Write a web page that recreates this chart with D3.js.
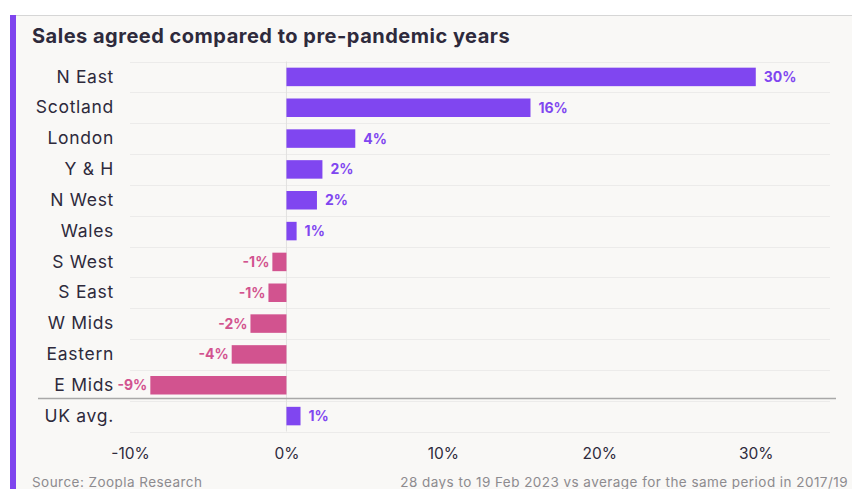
<!DOCTYPE html>
<html>
<head>
<meta charset="utf-8">
<script src="https://cdn.jsdelivr.net/npm/d3@7"></script>
<style>
  body { margin: 0; background: #ffffff; }
  svg text { font-family: Inter, "Noto Sans", sans-serif; }
</style>
</head>
<body>
<div class="chart"></div>
<script>
// Regions and their change in sales agreed (%)
const regions = ["N East", "Scotland", "London", "Y & H", "N West", "Wales",
  "S West", "S East", "W Mids", "Eastern", "E Mids", "UK avg."];
const values = [30.0, 15.6, 4.4, 2.3, 1.95, 0.65, -0.9, -1.15, -2.3, -3.5, -8.7, 0.9];
const valueLabels = ["30%", "16%", "4%", "2%", "2%", "1%", "-1%", "-1%", "-2%", "-4%", "-9%", "1%"];
const tickValues = [-10, 0, 10, 20, 30];

const width = 852, height = 489;
const purple = "#8046f0", pink = "#d2538f", ink = "#2e2a3c";
const font = "Inter, 'Noto Sans', sans-serif";

const svg = d3.select(".chart").append("svg")
  .attr("width", width)
  .attr("height", height);

// panel background + accents
svg.append("rect").attr("x", 10).attr("y", 15).attr("width", width - 10).attr("height", height - 15)
  .attr("fill", "#f9f8f6");
svg.append("line").attr("x1", 10).attr("x2", width).attr("y1", 15.5).attr("y2", 15.5)
  .attr("stroke", "#d6d6d6").attr("stroke-width", 1);
svg.append("rect").attr("x", 10).attr("y", 15).attr("width", 6).attr("height", height - 15)
  .attr("fill", "#7f45ee");

svg.append("text")
  .attr("x", 32).attr("y", 43)
  .attr("font-size", 20).attr("font-weight", 700)
  .attr("letter-spacing", 0.5)
  .attr("fill", ink)
  .text("Sales agreed compared to pre-pandemic years");

const data = regions.map((r, i) => ({ region: r, value: values[i], label: valueLabels[i] }));

const x = d3.scaleLinear().domain([-10, 35]).range([130, 834]);
const y = d3.scaleBand().domain(regions).range([61.5, 431.5]).paddingInner(0.4).paddingOuter(0.2);

// faint row lines
const rowLines = d3.range(regions.length + 1).map(i => 61.5 + i * y.step());
svg.selectAll(".row-line").data(rowLines).join("line")
  .attr("class", "row-line")
  .attr("x1", 130).attr("x2", 830)
  .attr("y1", d => Math.round(d) + 0.5).attr("y2", d => Math.round(d) + 0.5)
  .attr("stroke", "#ecebea").attr("stroke-width", 1);

// zero line
svg.append("line")
  .attr("x1", x(0)).attr("x2", x(0))
  .attr("y1", 61.5).attr("y2", 431.5)
  .attr("stroke", "#e2e1e0").attr("stroke-width", 1);

// separator above UK avg
const sepY = Math.round(y("UK avg.") - y.step() * 0.2 - 3) + 0.5;
svg.append("line")
  .attr("x1", 38).attr("x2", 836)
  .attr("y1", sepY).attr("y2", sepY)
  .attr("stroke", "#a9a8a8").attr("stroke-width", 1.5);

// bars
svg.selectAll(".bar").data(data).join("rect")
  .attr("class", "bar")
  .attr("x", d => x(Math.min(0, d.value)))
  .attr("y", d => y(d.region))
  .attr("width", d => Math.abs(x(d.value) - x(0)))
  .attr("height", y.bandwidth())
  .attr("fill", d => d.value < 0 ? pink : purple);

// value labels
svg.selectAll(".val").data(data).join("text")
  .attr("class", "val")
  .attr("x", d => d.value < 0 ? x(d.value) - 3 : x(d.value) + 8)
  .attr("y", d => y(d.region) + y.bandwidth() / 2)
  .attr("dy", "0.36em")
  .attr("text-anchor", d => d.value < 0 ? "end" : "start")
  .attr("font-size", 14).attr("font-weight", 700)
  .attr("fill", d => d.value < 0 ? pink : purple)
  .text(d => d.label);

// category axis
const yAxis = svg.append("g")
  .attr("transform", "translate(114,0)")
  .call(d3.axisLeft(y).tickSize(0).tickPadding(0));
yAxis.select(".domain").remove();
yAxis.selectAll("text")
  .attr("font-size", 17.5).attr("fill", ink)
  .attr("letter-spacing", 0.7)
  .style("font-family", font);

// value axis
const xAxis = svg.append("g")
  .attr("transform", "translate(0,445)")
  .call(d3.axisBottom(x).tickValues(tickValues).tickSize(0).tickFormat(d => d + "%"));
xAxis.select(".domain").remove();
xAxis.selectAll("text")
  .attr("font-size", 15.5).attr("fill", ink)
  .style("font-family", font);

// footer
svg.append("text")
  .attr("x", 32).attr("y", 487)
  .attr("font-size", 13.5).attr("fill", "#8d8b8f")
  .attr("letter-spacing", 0.45)
  .text("Source: Zoopla Research");
svg.append("text")
  .attr("x", 848).attr("y", 487)
  .attr("text-anchor", "end")
  .attr("font-size", 13.5).attr("fill", "#8d8b8f")
  .attr("letter-spacing", 0.45)
  .text("28 days to 19 Feb 2023 vs average for the same period in 2017/19");
</script>
</body>
</html>
